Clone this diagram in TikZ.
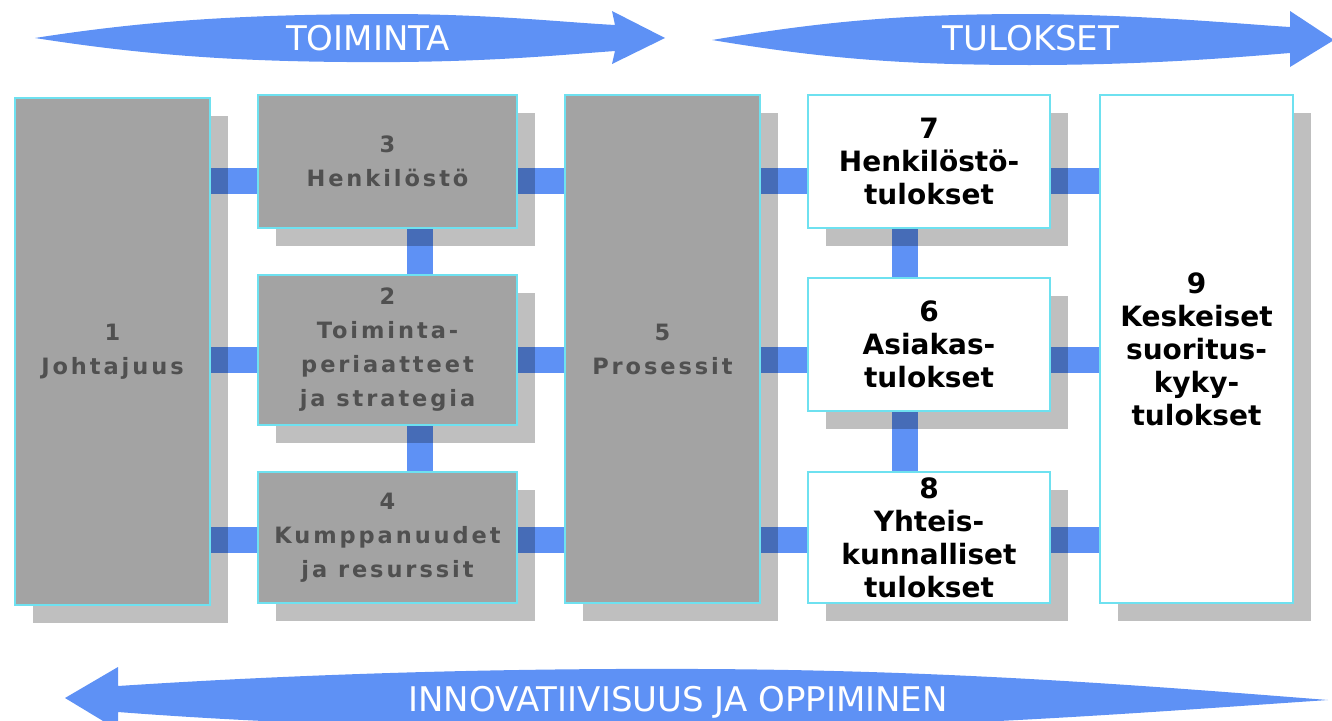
\documentclass[tikz,border=0pt]{standalone}
\usepackage{fontspec}
\setmainfont{DejaVu Sans}
\newfontfamily\harmaafont[LetterSpace=13]{DejaVu Sans}
\usetikzlibrary{shadows,backgrounds}
\definecolor{sininen}{RGB}{94,145,245}
\definecolor{harmaa}{RGB}{163,163,163}
\definecolor{teksti}{RGB}{80,80,80}
\definecolor{reuna}{RGB}{110,225,240}

\begin{document}
\begin{tikzpicture}[x=1pt,y=-1pt]
\tikzset{laatikko/.style={draw=reuna, line width=1.5pt, inner sep=0pt, align=center,
    drop shadow={shadow xshift=18pt, shadow yshift=-18pt, fill=black, opacity=0.25}},
  harmaa laatikko/.style={laatikko, fill=harmaa, text=teksti,
    font=\harmaafont\bfseries\fontsize{22.5}{34}\selectfont},
  valkea laatikko/.style={laatikko, fill=white, text=black,
    font=\bfseries\fontsize{28}{33}\selectfont},
  yhteys/.style={sininen, line width=26pt},
  nuoli/.style={fill=sininen},
  nuolinimi/.style={text=white, anchor=base, font=\fontsize{34}{40}\selectfont}}
\useasboundingbox (0,0) rectangle (1332,720);
\clip (0,0) rectangle (1332,720);
% nuolet
\fill[nuoli] (35,38) .. controls (150,20) and (250,14) .. (400,14)
  .. controls (500,15) and (560,22) .. (615,25) -- (612,11) -- (665,38) -- (612,64)
  -- (615,51) .. controls (560,55) and (500,61) .. (400,62)
  .. controls (250,63) and (150,56) .. (35,38) -- cycle;
\fill[nuoli] (712,40) .. controls (820,22) and (900,14) .. (1030,14)
  .. controls (1150,15) and (1240,24) .. (1290,27) -- (1290,11) -- (1334,40) -- (1290,67)
  -- (1290,53) .. controls (1240,57) and (1150,65) .. (1030,65)
  .. controls (900,65) and (820,58) .. (712,40) -- cycle;
\fill[nuoli] (65,698) -- (118,667) -- (118,686) .. controls (300,674) and (500,668) .. (700,669)
  .. controls (950,670) and (1150,686) .. (1328,700)
  .. controls (1150,712) and (950,728) .. (700,730)
  .. controls (500,730) and (300,726) .. (118,712) -- (118,730) -- cycle;
\node[nuolinimi] (N1) at (368,50) {TOIMINTA};
\node[nuolinimi] (N2) at (1031,50) {TULOKSET};
\node[nuolinimi] (N3) at (678,711) {INNOVATIIVISUUS JA OPPIMINEN};
% laatikot
\node[harmaa laatikko, minimum width=195pt, minimum height=507pt] (B1) at (112.5,351.5) {1\\Johtajuus};
\node[harmaa laatikko, minimum width=259pt, minimum height=133pt] (B3) at (387.5,161.5) {3\\Henkilöstö};
\node[harmaa laatikko, minimum width=259pt, minimum height=150pt] (B2) at (387.5,350) {2\\Toiminta-\\periaatteet\\ja strategia};
\node[harmaa laatikko, minimum width=259pt, minimum height=131pt] (B4) at (387.5,537.5) {4\\Kumppanuudet\\ja resurssit};
\node[harmaa laatikko, minimum width=195pt, minimum height=508pt] (B5) at (662.5,349) {5\\Prosessit};
\node[valkea laatikko, minimum width=242pt, minimum height=133pt] (B7) at (929,161.5) {7\\Henkilöstö-\\tulokset};
\node[valkea laatikko, minimum width=242pt, minimum height=133pt] (B6) at (929,344.5) {6\\Asiakas-\\tulokset};
\node[valkea laatikko, minimum width=242pt, minimum height=131pt] (B8) at (929,537.5) {8\\Yhteis-\\kunnalliset\\tulokset};
\node[valkea laatikko, minimum width=193pt, minimum height=508pt] (B9) at (1196.5,349) {9\\Keskeiset\\suoritus-\\kyky-\\tulokset};
% yhteydet
\coordinate (R1) at (0,181);
\coordinate (R2) at (0,360);
\coordinate (R3) at (0,540);
\coordinate (C1) at (420,0);
\coordinate (C2) at (905,0);
\begin{scope}[on background layer]
\draw[yhteys] (B1.east |- R1) -- (B3.west |- R1);
\draw[yhteys] (B1.east |- R2) -- (B2.west |- R2);
\draw[yhteys] (B1.east |- R3) -- (B4.west |- R3);
\draw[yhteys] (B3.east |- R1) -- (B5.west |- R1);
\draw[yhteys] (B2.east |- R2) -- (B5.west |- R2);
\draw[yhteys] (B4.east |- R3) -- (B5.west |- R3);
\draw[yhteys] (B5.east |- R1) -- (B7.west |- R1);
\draw[yhteys] (B5.east |- R2) -- (B6.west |- R2);
\draw[yhteys] (B5.east |- R3) -- (B8.west |- R3);
\draw[yhteys] (B7.east |- R1) -- (B9.west |- R1);
\draw[yhteys] (B6.east |- R2) -- (B9.west |- R2);
\draw[yhteys] (B8.east |- R3) -- (B9.west |- R3);
\draw[yhteys] (B3.south -| C1) -- (B2.north -| C1);
\draw[yhteys] (B2.south -| C1) -- (B4.north -| C1);
\draw[yhteys] (B7.south -| C2) -- (B6.north -| C2);
\draw[yhteys] (B6.south -| C2) -- (B8.north -| C2);
\end{scope}
\end{tikzpicture}
\end{document}
